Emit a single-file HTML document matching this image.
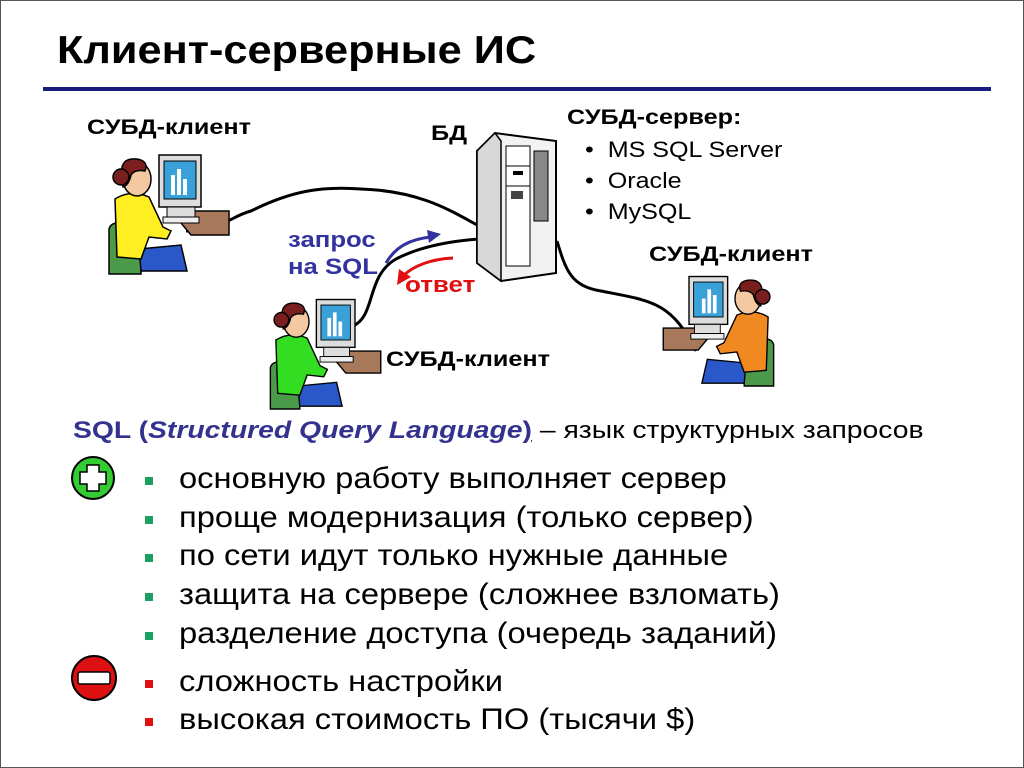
<!DOCTYPE html>
<html><head><meta charset="utf-8"><style>
body{margin:0;background:#fff}
#p{position:relative;width:1024px;height:768px;overflow:hidden;font-family:"Liberation Sans","Noto Sans CJK JP",sans-serif;background:#fff;box-sizing:border-box;border:1px solid #555}
.t{position:absolute;white-space:nowrap;transform-origin:0 0}
.b{font-weight:bold}
.li{position:absolute;left:178px;font-size:30px;line-height:34px;white-space:nowrap;color:#000;transform:scaleX(1.09);transform-origin:0 0}
.sq{position:absolute;left:144px;width:8px;height:8px}
.lb{font-size:21px;transform:scaleX(1.2)}
</style></head><body><div id="p">
<div class="t b" style="left:56px;top:28px;font-size:39px;transform:scaleX(1.11)">Клиент-серверные ИС</div>
<div style="position:absolute;left:42px;top:86px;width:948px;height:4px;background:#1c1c80"></div>

<svg width="1024" height="420" style="position:absolute;left:0;top:0">
<path d="M185,230 C220,230 230,215 250,210 C290,190 320,185 360,188 C420,190 450,210 478,225" fill="none" stroke="#000" stroke-width="3"/>
<path d="M352,325 C375,315 365,275 395,258 C420,245 450,240 478,238" fill="none" stroke="#000" stroke-width="3"/>
<path d="M556,240 C565,270 570,285 600,290 C650,300 670,300 695,350" fill="none" stroke="#000" stroke-width="3"/>
<polygon points="476,150 494,132 555,140 555,272 500,280 476,262" fill="#f2f2f2" stroke="#000" stroke-width="2"/>
<polygon points="476,150 494,132 500,140 500,280 476,262" fill="#d8d8d8" stroke="#000" stroke-width="1.5"/>
<rect x="505" y="145" width="24" height="120" fill="#fff" stroke="#000"/>
<rect x="533" y="150" width="14" height="70" fill="#888" stroke="#000"/>
<line x1="505" y1="165" x2="529" y2="165" stroke="#000"/><line x1="505" y1="185" x2="529" y2="185" stroke="#000"/>
<rect x="512" y="170" width="10" height="4" fill="#000"/><rect x="510" y="190" width="12" height="8" fill="#444"/>
<path d="M385,262 C395,245 410,238 430,236" fill="none" stroke="#3232a0" stroke-width="3"/>
<polygon points="440,233 426,229 428,242" fill="#3232a0"/>
<path d="M452,257 C430,258 412,265 402,275" fill="none" stroke="#e01010" stroke-width="3"/>
<polygon points="396,284 398,268 410,276" fill="#e01010"/>
</svg>

<div class="t b lb" style="left:86px;top:115px">СУБД-клиент</div>
<div class="t b lb" style="left:430px;top:121px">БД</div>
<div class="t b lb" style="left:566px;top:105px">СУБД-сервер:</div>
<div class="t" style="left:584px;top:136px;font-size:22px;transform:scaleX(1.14)">•&nbsp; MS SQL Server</div>
<div class="t" style="left:584px;top:167px;font-size:22px;transform:scaleX(1.14)">•&nbsp; Oracle</div>
<div class="t" style="left:584px;top:198px;font-size:22px;transform:scaleX(1.14)">•&nbsp; MySQL</div>
<div class="t b lb" style="left:648px;top:242px">СУБД-клиент</div>
<div class="t b lb" style="left:385px;top:347px">СУБД-клиент</div>
<div class="t b" style="left:287px;top:225px;font-size:22px;color:#3232a0;line-height:27px;transform:scaleX(1.17)">запрос<br>на SQL</div>
<div class="t b" style="left:404px;top:271px;font-size:22px;color:#e01010;transform:scaleX(1.18)">ответ</div>

<div class="t" style="left:72px;top:416px;font-size:24px;color:#000;transform:scaleX(1.18)"><span class="b" style="color:#33338f">SQL (<i>Structured Query Language</i><u>)</u></span> – язык структурных запросов</div>

<svg width="1024" height="768" style="position:absolute;left:0;top:0">
<circle cx="92" cy="477" r="21" fill="#33cc33" stroke="#000" stroke-width="2"/>
<path d="M86,464 h12 v7 h7 v12 h-7 v7 h-12 v-7 h-7 v-12 h7 z" fill="#fff" stroke="#000" stroke-width="1.5"/>
<circle cx="93" cy="677" r="22" fill="#dd1111" stroke="#000" stroke-width="2"/>
<rect x="77" y="671" width="32" height="12" rx="2" fill="#fff" stroke="#000" stroke-width="1.5"/>
</svg>

<div class="sq" style="top:476px;background:#1aa060"></div><div class="li" style="top:461px">основную работу выполняет сервер</div>
<div class="sq" style="top:515px;background:#1aa060"></div><div class="li" style="top:500px">проще модернизация (только сервер)</div>
<div class="sq" style="top:553px;background:#1aa060"></div><div class="li" style="top:538px">по сети идут только нужные данные</div>
<div class="sq" style="top:592px;background:#1aa060"></div><div class="li" style="top:577px">защита на сервере (сложнее взломать)</div>
<div class="sq" style="top:631px;background:#1aa060"></div><div class="li" style="top:616px">разделение доступа (очередь заданий)</div>
<div class="sq" style="top:679px;background:#e01010"></div><div class="li" style="top:664px">сложность настройки</div>
<div class="sq" style="top:717px;background:#e01010"></div><div class="li" style="top:702px">высокая стоимость ПО (тысячи $)</div>

<svg width="1024" height="420" style="position:absolute;left:0;top:0">
<defs>
<g id="pp">
 <polygon points="70,62 128,62 128,86 90,86" fill="#a8785a" stroke="#000" stroke-width="1.5"/>
 <rect x="58" y="6" width="42" height="52" fill="#ddd" stroke="#000" stroke-width="1.5"/>
 <rect x="63" y="12" width="32" height="38" fill="#3aa0d8" stroke="#000"/>
 <rect x="70" y="26" width="4" height="20" fill="#fff"/><rect x="76" y="20" width="4" height="26" fill="#fff"/><rect x="82" y="30" width="4" height="16" fill="#fff"/>
 <rect x="66" y="58" width="28" height="10" fill="#ddd" stroke="#000"/>
 <rect x="62" y="68" width="36" height="6" fill="#eee" stroke="#000"/>
 <path d="M8,80 Q10,72 24,74 L40,80 L40,125 L8,125 Z" fill="#4a9a4a" stroke="#000" stroke-width="1.5"/>
 <path d="M38,100 L80,96 L86,122 L40,122 Z" fill="#2a58c8" stroke="#000" stroke-width="1.5"/>
</g>
<g id="hd">
 <ellipse cx="36" cy="30" rx="14" ry="17" fill="#f4c8a0" stroke="#000" stroke-width="1.5"/>
 <path d="M22,32 Q16,8 36,10 Q48,12 44,22 Q34,20 30,26 Q28,36 22,38 Z" fill="#7a1f1f" stroke="#000" stroke-width="1.5"/>
 <circle cx="20" cy="28" r="8" fill="#7a1f1f" stroke="#000" stroke-width="1.5"/>
</g>
</defs>
<g transform="translate(100,148)"><use href="#pp"/><path d="M14,50 Q30,40 48,48 L62,78 L70,82 L66,90 L48,88 L40,110 L16,108 Z" fill="#ffee22" stroke="#000" stroke-width="1.5"/><use href="#hd"/></g>
<g transform="translate(262,293) scale(0.92)"><use href="#pp"/><path d="M14,50 Q30,40 48,48 L62,78 L70,82 L66,90 L48,88 L40,110 L16,108 Z" fill="#33dd22" stroke="#000" stroke-width="1.5"/><use href="#hd"/></g>
<g transform="translate(780,270) scale(-0.92,0.92)"><use href="#pp"/><path d="M14,50 Q30,40 48,48 L62,78 L70,82 L66,90 L48,88 L40,110 L16,108 Z" fill="#f08a20" stroke="#000" stroke-width="1.5"/><use href="#hd"/></g>
</svg>
</div></body></html>
